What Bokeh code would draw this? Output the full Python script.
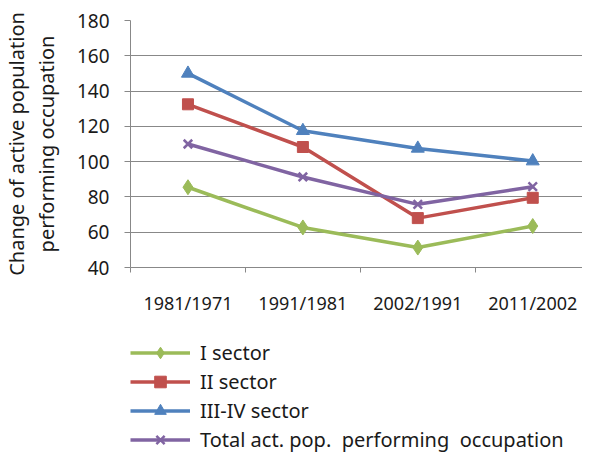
from bokeh.plotting import figure
from bokeh.layouts import column
from bokeh.models import Range1d, FixedTicker, Legend, LegendItem
from bokeh.embed import file_html
from bokeh.resources import INLINE

# ---- data ----
periods = ["1981/1971", "1991/1981", "2002/1991", "2011/2002"]
sector_1 = [85.5, 62.7, 51.3, 63.5]
sector_2 = [132.5, 108.3, 68.0, 79.5]
sector_3_4 = [150.0, 117.5, 107.5, 100.3]
total_pop = [110.0, 91.3, 75.8, 85.8]
y_ticks = [40, 60, 80, 100, 120, 140, 160, 180]
series_names = ["I sector", "II sector", "III-IV sector",
                "Total act. pop.  performing  occupation"]

FONT = "Noto Sans"
FS_X = "18px"
FS_Y = "19px"
FS_TITLE = "20px"
FS_LEG = "20px"
TXT = "#1a1a1a"
GRID = "#888888"

xs = [i + 0.5 for i in range(len(periods))]

p = figure(width=582, height=317, output_backend="svg", toolbar_location=None,
           x_range=Range1d(0, 3.933), y_range=Range1d(40, 180),
           min_border_left=123, min_border_right=0, min_border_top=20,
           min_border_bottom=50)
p.outline_line_color = None
p.background_fill_color = "white"
p.border_fill_color = "white"

# grid
p.xgrid.grid_line_color = None
p.ygrid.ticker = FixedTicker(ticks=y_ticks)
p.ygrid.grid_line_color = GRID
p.ygrid.grid_line_width = 1

# y axis
p.yaxis.ticker = FixedTicker(ticks=y_ticks)
p.yaxis.axis_line_color = GRID
p.yaxis.major_tick_line_color = GRID
p.yaxis.major_tick_out = 6
p.yaxis.major_tick_in = 0
p.yaxis.minor_tick_line_color = None
p.yaxis.major_label_text_font = FONT
p.yaxis.major_label_text_font_size = FS_Y
p.yaxis.major_label_text_color = TXT
p.yaxis.major_label_standoff = 15
p.yaxis.axis_label = "Change of active population\nperforming occupation"
p.yaxis.axis_label_text_font = FONT
p.yaxis.axis_label_text_font_size = FS_TITLE
p.yaxis.axis_label_text_font_style = "normal"
p.yaxis.axis_label_text_color = TXT
p.yaxis.axis_label_text_line_height = 1.1
p.yaxis.axis_label_standoff = 14

# x axis
p.xaxis.ticker = FixedTicker(ticks=xs, minor_ticks=[0, 1, 2, 3, 4])
p.xaxis.major_label_overrides = {x: lab for x, lab in zip(xs, periods)}
p.xaxis.axis_line_color = GRID
p.xaxis.major_tick_line_color = None
p.xaxis.major_tick_out = 0
p.xaxis.major_tick_in = 0
p.xaxis.minor_tick_line_color = GRID
p.xaxis.minor_tick_out = 5
p.xaxis.minor_tick_in = 0
p.xaxis.major_label_text_font = FONT
p.xaxis.major_label_text_font_size = FS_X
p.xaxis.major_label_text_color = TXT
p.xaxis.major_label_standoff = 18

colors = ["#9BBB59", "#C0504D", "#4F81BD", "#8064A2"]
markers = ["diamond", "square", "triangle", "x"]
sizes = [15, 11, 13, 12]
series = [sector_1, sector_2, sector_3_4, total_pop]

# legend-only figure below the chart (its renderers lie outside its range)
lg = figure(width=582, height=137, output_backend="svg", toolbar_location=None,
            x_range=p.x_range, y_range=Range1d(1000, 1001),
            x_axis_location=None, y_axis_location=None,
            min_border=0, min_border_left=0, min_border_right=0,
            min_border_top=0, min_border_bottom=0)
lg.outline_line_color = None
lg.xgrid.visible = False
lg.ygrid.visible = False
lg.border_fill_color = "white"
lg.background_fill_color = "white"


def draw(fig, vals, c, m, s):
    ln = fig.line(xs, vals, line_color=c, line_width=3.5)
    if m == "x":
        sc = fig.scatter(xs, vals, marker=m, size=s, line_color=c, line_width=2.5)
    else:
        sc = fig.scatter(xs, vals, marker=m, size=s, fill_color=c, line_color=c)
    return ln, sc


items = []
for name, vals, c, m, s in zip(series_names, series, colors, markers, sizes):
    draw(p, vals, c, m, s)
    ln2, sc2 = draw(lg, vals, c, m, s)
    items.append(LegendItem(label=name, renderers=[ln2, sc2]))

legend = Legend(items=items, location=(0, 0), orientation="vertical",
                glyph_width=60, glyph_height=29, label_height=29, spacing=0,
                padding=0, margin=0, label_standoff=10,
                label_text_font=FONT, label_text_font_size=FS_LEG,
                label_text_color=TXT, border_line_color=None,
                background_fill_alpha=0)
lg.add_layout(legend, "center")

layout = column(p, lg, spacing=0)
open("out.html", "w").write(file_html(layout, INLINE))
